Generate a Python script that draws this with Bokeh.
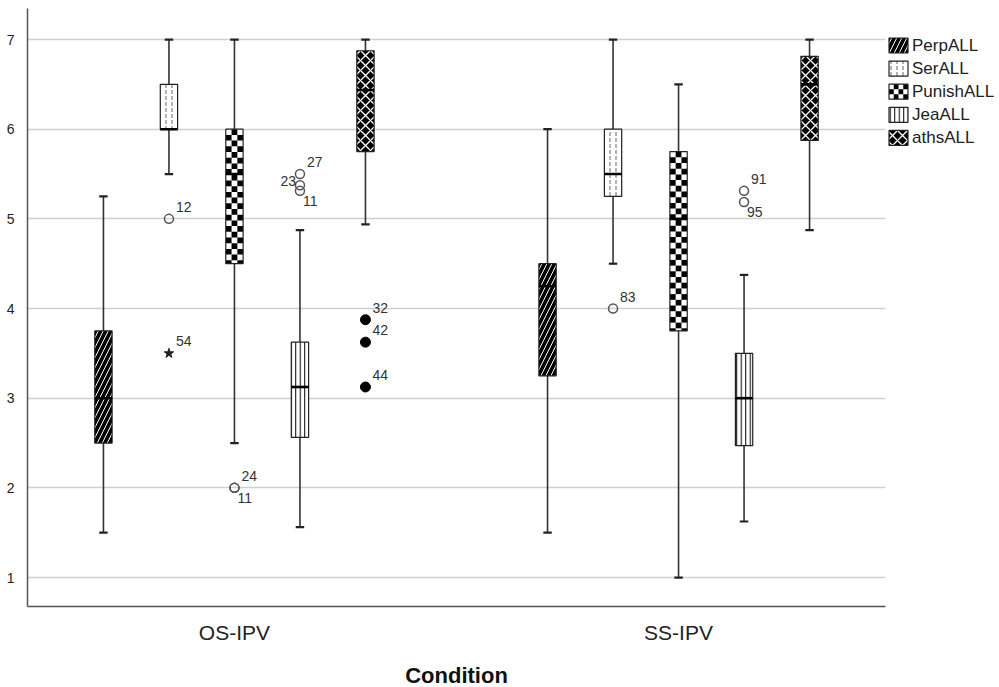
from bokeh.plotting import figure
from bokeh.models import Range1d, FixedTicker, ColumnDataSource
from bokeh.layouts import row, column
from bokeh.core.properties import value
from bokeh.embed import file_html
from bokeh.resources import INLINE

# ---------------- data ----------------
conditions = ["OS-IPV", "SS-IPV"]
series = ["PerpALL", "SerALL", "PunishALL", "JeaALL", "athsALL"]
x_title = "Condition"

# per condition, per series (order of `series`)
whisker_low = [[1.5, 5.5, 2.5, 1.5625, 4.9375],
               [1.5, 4.5, 1.0, 1.625, 4.875]]
q1 = [[2.5, 6.0, 4.5, 2.5625, 5.75],
      [3.25, 5.25, 3.75, 2.47, 5.875]]
median = [[3.0, 6.0, 5.5, 3.125, 6.4375],
          [4.25, 5.5, 5.0, 3.0, 6.5]]
q3 = [[3.75, 6.5, 6.0, 3.625, 6.875],
      [4.5, 6.0, 5.75, 3.5, 6.8125]]
whisker_high = [[5.25, 7.0, 7.0, 4.875, 7.0],
                [6.0, 7.0, 6.5, 4.375, 7.0]]

# outliers: condition index, series index, value, case label, marker kind
out_cond = [0, 0, 0, 0, 0, 0, 0, 0, 0, 0, 1, 1, 1]
out_series = [1, 1, 2, 2, 3, 3, 3, 4, 4, 4, 1, 3, 3]
out_value = [5.0, 3.5, 2.0, 2.0, 5.5, 5.375, 5.3125, 3.875, 3.625, 3.125, 4.0, 5.3125, 5.1875]
out_label = ["12", "54", "24", "11", "27", "23", "11", "32", "42", "44", "83", "91", "95"]
out_kind = ["circle", "star", "circle", "circle", "circle", "circle", "circle",
            "dot", "dot", "dot", "circle", "circle", "circle"]
# label placement style: "ur" upper-right, "lr" lower-right, "l" left
out_place = ["ur", "ur", "ur", "lr", "ur", "l", "lr", "ur", "ur", "ur", "ur", "ur", "lr"]

# ---------------- layout / style ----------------
FONT = "Liberation Sans"
offsets = [-0.295, -0.1475, 0.0, 0.1475, 0.295]
box_w = 0.039
cap_hw = 0.0095
PX_PER_UNIT_Y = 89.67
CELL_PX = 5.7
MAIN_H = 650
FRAME_TOP, FRAME_BOTTOM = 8, 606
TITLE_H = 687 - MAIN_H

styles = {
    "PerpALL": dict(fill_color="black", hatch_pattern="/", hatch_color="white",
                    hatch_scale=10, hatch_weight=1.0),
    "SerALL": dict(fill_color="white", hatch_pattern=":", hatch_color="#666666",
                   hatch_scale=6, hatch_weight=1.0),
    "PunishALL": dict(fill_color="white"),
    "JeaALL": dict(fill_color="white", hatch_pattern="|", hatch_color="black",
                   hatch_scale=4.5, hatch_weight=1.0),
    "athsALL": dict(fill_color="black", hatch_pattern="x", hatch_color="white",
                    hatch_scale=10, hatch_weight=1.3),
}


def checker_cells(x0, x1, y0, y1, ncols, cell_h):
    L, R, B, T = [], [], [], []
    cw = (x1 - x0) / ncols
    nrows = int((y1 - y0) / cell_h + 0.999)
    for r in range(nrows):
        for c in range(ncols):
            if (r + c) % 2 == 1:
                L.append(x0 + c * cw)
                R.append(x0 + (c + 1) * cw)
                T.append(y1 - r * cell_h)
                B.append(max(y0, y1 - (r + 1) * cell_h))
    return L, R, B, T


def blank_fig(w, h, xr, yr, **kw):
    f = figure(width=w, height=h, output_backend="svg", toolbar_location=None,
               x_range=xr, y_range=yr, x_axis_location=None, y_axis_location=None, **kw)
    f.outline_line_color = None
    f.xgrid.visible = False
    f.ygrid.visible = False
    f.background_fill_color = "white"
    f.border_fill_color = "white"
    return f


p = figure(width=887, height=MAIN_H, output_backend="svg", toolbar_location=None,
           x_range=Range1d(0.534, 2.466), y_range=Range1d(0.677, 7.346),
           min_border_left=27, min_border_right=2, min_border_top=FRAME_TOP,
           min_border_bottom=MAIN_H - FRAME_BOTTOM)
p.outline_line_color = None
p.background_fill_color = "white"
p.border_fill_color = "white"

# grid
p.xgrid.grid_line_color = None
p.ygrid.grid_line_color = "#cfcfcf"
p.ygrid.grid_line_width = 1.6
p.ygrid.ticker = FixedTicker(ticks=[1, 2, 3, 4, 5, 6, 7])

# axes
p.yaxis.ticker = FixedTicker(ticks=[1, 2, 3, 4, 5, 6, 7])
p.yaxis.major_tick_line_color = None
p.yaxis.minor_tick_line_color = None
p.yaxis.axis_line_color = "#555555"
p.yaxis.axis_line_width = 1.5
p.yaxis.major_label_text_font = FONT
p.yaxis.major_label_text_font_size = "14px"
p.yaxis.major_label_text_color = "#222222"
p.yaxis.major_label_standoff = 7

p.xaxis.ticker = FixedTicker(ticks=[1, 2])
p.xaxis.major_label_overrides = {i + 1: c for i, c in enumerate(conditions)}
p.xaxis.major_tick_line_color = None
p.xaxis.minor_tick_line_color = None
p.xaxis.axis_line_color = "#555555"
p.xaxis.axis_line_width = 1.5
p.xaxis.major_label_text_font = FONT
p.xaxis.major_label_text_font_size = "21px"
p.xaxis.major_label_text_color = "#222222"
p.xaxis.major_label_standoff = 8

for si, s in enumerate(series):
    xs = [ci + 1 + offsets[si] for ci in range(len(conditions))]
    lo = [whisker_low[ci][si] for ci in range(len(conditions))]
    a = [q1[ci][si] for ci in range(len(conditions))]
    m = [median[ci][si] for ci in range(len(conditions))]
    b = [q3[ci][si] for ci in range(len(conditions))]
    hi = [whisker_high[ci][si] for ci in range(len(conditions))]
    src = ColumnDataSource(dict(x=xs, lo=lo, q1=a, med=m, q3=b, hi=hi,
                                cl=[x - cap_hw for x in xs], cr=[x + cap_hw for x in xs],
                                bl=[x - box_w / 2 for x in xs], br=[x + box_w / 2 for x in xs]))
    # whiskers
    p.segment(x0="x", y0="q3", x1="x", y1="hi", source=src, line_color="#333333", line_width=1.6)
    p.segment(x0="x", y0="lo", x1="x", y1="q1", source=src, line_color="#333333", line_width=1.6)
    p.segment(x0="cl", y0="hi", x1="cr", y1="hi", source=src, line_color="#222222", line_width=2.2)
    p.segment(x0="cl", y0="lo", x1="cr", y1="lo", source=src, line_color="#222222", line_width=2.2)
    # box
    p.vbar(x="x", width=box_w, bottom="q1", top="q3", source=src,
           line_color=None, **styles[s])
    if s == "PunishALL":
        L, R, B, T = [], [], [], []
        for x, lo_q, hi_q in zip(xs, a, b):
            l_, r_, b_, t_ = checker_cells(x - box_w / 2, x + box_w / 2, lo_q, hi_q, 3,
                                           CELL_PX / PX_PER_UNIT_Y)
            L += l_; R += r_; B += b_; T += t_
        p.quad(left=L, right=R, bottom=B, top=T, fill_color="black", line_color=None)
    p.vbar(x="x", width=box_w, bottom="q1", top="q3", source=src,
           fill_color=None, line_color="#222222", line_width=1.2)
    # median
    p.segment(x0="bl", y0="med", x1="br", y1="med", source=src, line_color="black", line_width=2.6)

# outliers
ox = [c + 1 + offsets[s] for c, s in zip(out_cond, out_series)]
for kind in ["circle", "star", "dot"]:
    idx = [i for i, k in enumerate(out_kind) if k == kind]
    if not idx:
        continue
    d = ColumnDataSource(dict(x=[ox[i] for i in idx], y=[out_value[i] for i in idx]))
    if kind == "circle":
        p.scatter(x="x", y="y", source=d, marker="circle", size=9,
                  fill_color=None, line_color="#555555", line_width=1.5)
    elif kind == "star":
        p.scatter(x="x", y="y", source=d, marker="star", size=10,
                  fill_color="#222222", line_color="#222222", line_width=1)
    else:
        p.scatter(x="x", y="y", source=d, marker="circle", size=10,
                  fill_color="black", line_color="black")

place_style = {
    "ur": dict(x_offset=7, y_offset=-7, text_align="left", text_baseline="bottom"),
    "lr": dict(x_offset=3, y_offset=5, text_align="left", text_baseline="top"),
    "l": dict(x_offset=-4, y_offset=-4, text_align="right", text_baseline="middle"),
}
for pl, st in place_style.items():
    idx = [i for i, q in enumerate(out_place) if q == pl]
    d = dict(x=[ox[i] for i in idx], y=[out_value[i] for i in idx], t=[out_label[i] for i in idx])
    p.text(x="x", y="y", text="t", source=ColumnDataSource(d), text_font=value(FONT),
           text_font_size="14px", text_color="#333333", **st)

# ---------------- legend panel (separate figure, canvas-pixel coordinates) ----------------
LW = 112
leg = blank_fig(LW, MAIN_H, Range1d(0, LW), Range1d(FRAME_BOTTOM, FRAME_TOP),
                min_border_left=0, min_border_right=0, min_border_top=FRAME_TOP,
                min_border_bottom=MAIN_H - FRAME_BOTTOM)

g_x, g_w, g_h, g_c0, g_pitch = 1.5, 19, 15, 45, 23.1
g_cy = [g_c0 + i * g_pitch for i in range(len(series))]
for i, s in enumerate(series):
    st = dict(styles[s])
    leg.rect(x=[g_x + g_w / 2], y=[g_cy[i]], width=g_w, height=g_h,
             line_color=None, **st)
    if s == "PunishALL":
        l_, r_, b_, t_ = checker_cells(g_x, g_x + g_w, g_cy[i] - g_h / 2,
                                       g_cy[i] + g_h / 2, 4, g_h / 3)
        leg.quad(left=l_, right=r_, bottom=b_, top=t_, fill_color="black", line_color=None)
    leg.rect(x=[g_x + g_w / 2], y=[g_cy[i]], width=g_w, height=g_h,
             fill_color=None, line_color="#222222", line_width=1.2)
leg.text(x=[g_x + g_w + 4] * len(series), y=g_cy, text=series,
         text_font=value(FONT), text_font_size="17px", text_color="#222222",
         text_baseline="middle", text_align="left")

# ---------------- x-axis title strip ----------------
tf = blank_fig(999, TITLE_H, Range1d(0, 999), Range1d(TITLE_H, 0), min_border=0)
tf.text(x=[(27 + 885) / 2], y=[675 - MAIN_H], text=[x_title], text_font=value(FONT),
        text_font_size="22px", text_font_style="bold", text_color="#111111",
        text_align="center", text_baseline="middle")

layout = column(row(p, leg, spacing=0), tf, spacing=0)
open("out.html", "w").write(file_html(layout, INLINE))
